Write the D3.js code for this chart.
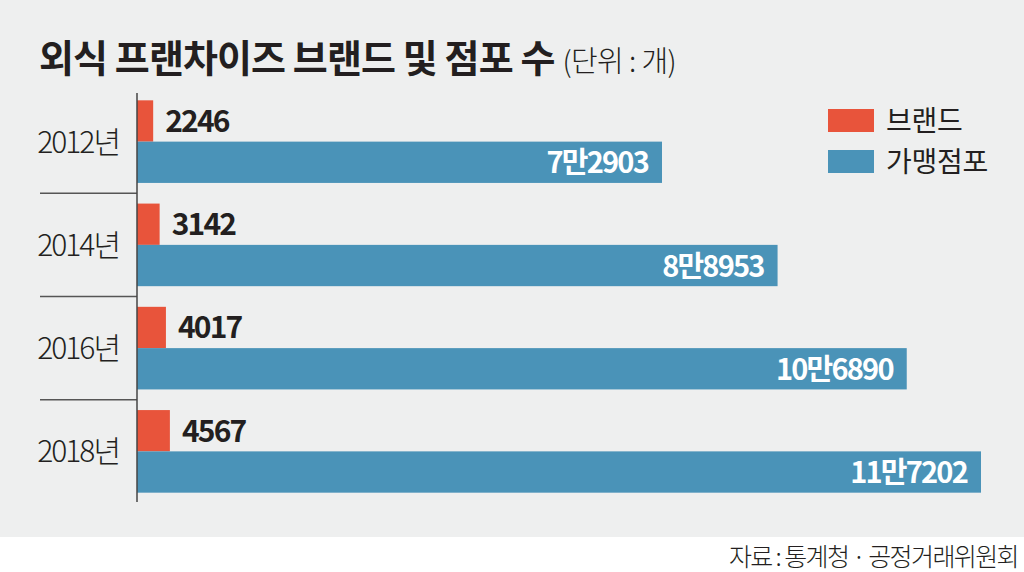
<!DOCTYPE html>
<html><head><meta charset="utf-8">
<script src="https://cdn.jsdelivr.net/npm/d3@7"></script>
<style>body{margin:0;background:#fff}</style>
</head><body>
<svg id="c" width="1024" height="572"></svg>
<script>
const years = ["2012년","2014년","2016년","2018년"];
const brands = [2246, 3142, 4017, 4567];
const stores = [72903, 88953, 106890, 117202];
const storeLabels = ["7만2903","8만8953","10만6890","11만7202"];
const seriesNames = ["브랜드","가맹점포"];

const svg = d3.select("#c");
const FONT = "'Noto Sans CJK KR','Noto Sans',sans-serif";
const RED = "#e8543b", BLUE = "#4a93b8", INK = "#231f20";

svg.append("rect").attr("width",1024).attr("height",537).attr("fill","#eeefef");

// title
const t = svg.append("text").attr("x",39).attr("y",72).attr("font-family",FONT).attr("fill",INK);
t.append("tspan").attr("font-size",38).attr("font-weight",700).attr("letter-spacing",-0.9).text("외식 프랜차이즈 브랜드 및 점포 수");
t.append("tspan").attr("dx",8).attr("font-size",29).attr("font-weight",300).attr("letter-spacing",-0.6).text("(단위 : 개)");

const x0 = 137;
const x = d3.scaleLinear().domain([0,117202]).range([x0,981]);
const y = d3.scaleBand().domain(years).range([90,503]).paddingInner(0.2).paddingOuter(0.1);
const yy = d3.scaleBand().domain(seriesNames).range([0,y.bandwidth()]);

// separators
[0,1,2].forEach(i=>{
  const yv = (y(years[i]) + y.bandwidth() + y(years[i+1]))/2;
  svg.append("line").attr("x1",40).attr("x2",x0).attr("y1",yv).attr("y2",yv).attr("stroke","#555").attr("stroke-width",1.3);
});

const g = svg.selectAll("g.yr").data(years).join("g").attr("class","yr")
  .attr("transform",d=>`translate(0,${y(d)})`);

g.append("rect").attr("x",x0).attr("y",yy("브랜드")).attr("height",yy.bandwidth())
  .attr("width",(d,i)=>x(brands[i])-x0).attr("fill",RED);
g.append("rect").attr("x",x0).attr("y",yy("가맹점포")).attr("height",yy.bandwidth())
  .attr("width",(d,i)=>x(stores[i])-x0).attr("fill",BLUE);

g.append("text").attr("x",(d,i)=>x(brands[i])+12).attr("y",yy("브랜드")+yy.bandwidth()/2+11)
  .attr("font-family",FONT).attr("font-size",30).attr("font-weight",700).attr("letter-spacing",-1.8)
  .attr("fill",INK).text((d,i)=>brands[i]);
g.append("text").attr("x",(d,i)=>x(stores[i])-14).attr("y",yy("가맹점포")+yy.bandwidth()/2+11)
  .attr("text-anchor","end")
  .attr("font-family",FONT).attr("font-size",29).attr("font-weight",700).attr("letter-spacing",-1.8)
  .attr("fill","#fff").text((d,i)=>storeLabels[i]);

g.append("text").attr("x",119).attr("y",y.bandwidth()/2+11).attr("text-anchor","end")
  .attr("font-family",FONT).attr("font-size",30).attr("font-weight",300).attr("letter-spacing",-2)
  .attr("fill",INK).text(d=>d);

// axis line
svg.append("line").attr("x1",x0).attr("x2",x0).attr("y1",93).attr("y2",502).attr("stroke","#444").attr("stroke-width",1.5);

// legend
const lg = svg.selectAll("g.lg").data(seriesNames).join("g").attr("class","lg")
  .attr("transform",(d,i)=>`translate(828,${109+i*41})`);
lg.append("rect").attr("width",46).attr("height",23).attr("fill",(d,i)=>i?BLUE:RED);
lg.append("text").attr("x",58).attr("y",22).attr("font-family",FONT).attr("font-size",28)
  .attr("font-weight",400).attr("fill",INK).attr("letter-spacing",-0.3).text(d=>d);

// source
svg.append("text").attr("x",1018).attr("y",566).attr("text-anchor","end")
  .attr("font-family",FONT).attr("font-size",25).attr("font-weight",300).attr("letter-spacing",-1.6)
  .attr("fill",INK).text("자료 : 통계청 · 공정거래위원회");
</script>
</body></html>
